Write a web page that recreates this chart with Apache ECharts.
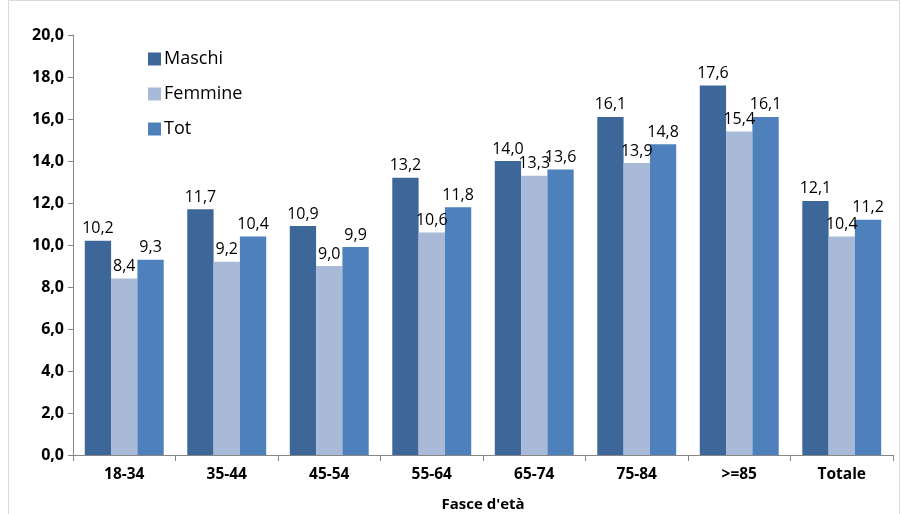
<!DOCTYPE html>
<html><head><meta charset="utf-8">
<script src="https://cdn.jsdelivr.net/npm/echarts@6/dist/echarts.min.js"></script>
<style>html,body{margin:0;padding:0;background:#fff}#c{width:901px;height:514px}</style>
</head><body><div id="c"></div>
<script>
const categories = ['18-34','35-44','45-54','55-64','65-74','75-84','>=85','Totale'];
const maschi = [10.2, 11.7, 10.9, 13.2, 14.0, 16.1, 17.6, 12.1];
const femmine = [8.4, 9.2, 9.0, 10.6, 13.3, 13.9, 15.4, 10.4];
const tot = [9.3, 10.4, 9.9, 11.8, 13.6, 14.8, 16.1, 11.2];
const yTicks = [0,2,4,6,8,10,12,14,16,18,20];

const fmt = v => v.toFixed(1).replace('.', ',');
const font = '"Open Sans", "Liberation Sans", sans-serif';
const lbl = {show:true, position:'top', distance:4, color:'#000', fontSize:16, fontFamily:font,
  formatter: p => fmt(p.value)};
const chart = echarts.init(document.getElementById('c'));
chart.setOption({
  animation:false,
  graphic:[{type:'rect', shape:{x:8.5,y:0.5,width:891,height:520}, style:{fill:null, stroke:'#d9d9d9', lineWidth:1}, silent:true}],
  grid:{left:73, right:8, top:35, bottom:59, containLabel:false, outerBoundsMode:'none'},
  legend:{orient:'vertical', left:143, top:45, itemWidth:13, itemHeight:13, itemGap:17,
    icon:'rect', textStyle:{fontSize:18, fontFamily:font, color:'#000', padding:[0,0,0,-2]},
    data:['Maschi','Femmine','Tot']},
  xAxis:{type:'category', data:categories, name:"Fasce d'età", nameLocation:'middle', nameGap:42,
    nameTextStyle:{fontWeight:'bold', fontSize:15, fontFamily:font, color:'#000'},
    axisLine:{lineStyle:{color:'#868686'}}, axisTick:{show:true, length:6, lineStyle:{color:'#868686'}},
    axisLabel:{fontWeight:'bold', fontSize:15.5, color:'#000', fontFamily:font, margin:12}},
  yAxis:{type:'value', min:yTicks[0], max:yTicks[yTicks.length-1], interval:2,
    axisLine:{show:true, lineStyle:{color:'#868686'}}, axisTick:{show:true, length:5, lineStyle:{color:'#868686'}},
    splitLine:{show:false},
    axisLabel:{fontWeight:'bold', fontSize:16, color:'#000', fontFamily:font, margin:9, formatter: v => fmt(v)}},
  series:[
    {name:'Maschi', type:'bar', data:maschi, itemStyle:{color:'#3E6799'}, barGap:'0%', barCategoryGap:'23%', label:lbl},
    {name:'Femmine', type:'bar', data:femmine, itemStyle:{color:'#A9B9D8'}, barGap:'0%', barCategoryGap:'23%', label:lbl},
    {name:'Tot', type:'bar', data:tot, itemStyle:{color:'#4E80BC'}, barGap:'0%', barCategoryGap:'23%', label:lbl}
  ]
});
</script></body></html>
